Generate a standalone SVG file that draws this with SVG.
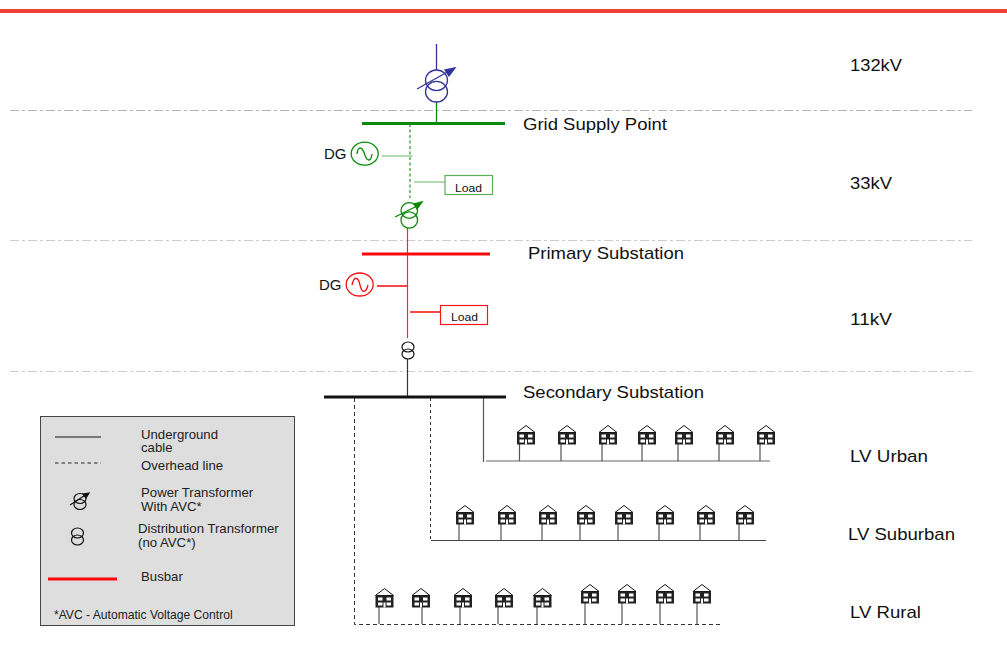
<svg xmlns="http://www.w3.org/2000/svg" width="1007" height="657" viewBox="0 0 1007 657">
<style>
text{font-family:"Liberation Sans",Arial,sans-serif;fill:#111}
.t17{font-size:17px}.t15{font-size:15px}.t13{font-size:13.2px;fill:#222}.t12{font-size:12.1px;fill:#222}.t11{font-size:11px}
.lv{stroke:#cccccc;stroke-width:1;fill:none;stroke-dasharray:9 3 3 3}
.k{stroke:#111;fill:none;stroke-width:1.2}
.g{stroke:#0a8a0a;fill:none;stroke-width:1.3}
.r{stroke:#f01010;fill:none;stroke-width:1.3}
.b{stroke:#333399;fill:none;stroke-width:1.3}
</style>
<defs>
<g id="house">
<path d="M-9 0.5 L0 -6.500 L9 0.5 Z" fill="#fff" stroke="#111" stroke-width="1"/>
<rect x="-9" y="0.5" width="18" height="12" fill="#222"/>
<rect x="-6.500" y="2.500" width="4.500" height="3" fill="#fff"/><rect x="2" y="2.500" width="4.500" height="3" fill="#fff"/>
<rect x="-6.500" y="7.500" width="4.500" height="3" fill="#fff"/><rect x="2" y="7.500" width="4.500" height="3" fill="#fff"/>
<rect x="-1" y="7.500" width="2" height="5" fill="#fff"/>
</g>
<g id="dt"><ellipse cx="0" cy="-3.500" rx="6" ry="5"/><ellipse cx="0" cy="3.500" rx="6" ry="5"/></g>
</defs>
<rect id="top-bar" x="0" y="9" width="1007" height="4" fill="#ee4238"/>

<g id="voltage-boundaries">
<line class="lv" x1="10" y1="110.500" x2="972" y2="110.500" style="stroke:#b4b4b4"/>
<line class="lv" x1="10" y1="240.500" x2="972" y2="240.500"/>
<line class="lv" x1="10" y1="371.500" x2="972" y2="371.500"/>
</g>

<g id="connectors">
<path d="M436.500 44V70" class="b"/>
<path d="M436.500 102V122" class="g"/>
<path d="M410 124V198" stroke="#4fae4f" stroke-width="1.500" stroke-dasharray="3 2.500" fill="none"/>
<path d="M381.500 156H412.500M414 182H445" stroke="#66b866" stroke-width="1.200" fill="none"/>
<path d="M407.500 228V338" stroke="#f42a2a" stroke-width="1.200" fill="none"/>
<path d="M377 286H407M410 312H440" class="r"/>
<path d="M407.500 359V396" stroke="#333" stroke-width="1.200" fill="none"/>
<path d="M483.500 398V462" stroke="#555" stroke-width="1.200" fill="none"/>
<path d="M486 461H770" stroke="#666" stroke-width="1.200" fill="none"/>
<path d="M430.500 398V541" stroke="#333" stroke-width="1" stroke-dasharray="3 3" fill="none"/>
<path d="M431 540.500H766" stroke="#444" stroke-width="1.200" fill="none"/>
<path d="M354.500 398V624.500H720" stroke="#333" stroke-width="1" stroke-dasharray="4 3" fill="none"/>
<g stroke="#555" stroke-width="1.200">
<path d="M519.500 444V461M561 444V461M602 444V461M642 444V461M678 444V461M719 444V461M760 444V461"/>
<path d="M459 524V540M501 524V540M542 524V540M580 524V540M618 524V540M659 524V540M700 524V540M739 524V540"/>
<path d="M379 607V624M422 607V624M460 607V624M498 607V624M537 607V624M585 603V624M622 603V624M660 603V624M697 603V624"/>
</g>
</g>

<g id="busbars">
<rect id="bus-gsp" x="362" y="122" width="143" height="3" fill="#0a8a0a"/>
<rect id="bus-primary" x="362" y="252.500" width="128" height="3" fill="#f80a0a"/>
<rect id="bus-secondary" x="324" y="395.500" width="182" height="3" fill="#111"/>
</g>

<g id="tx-132" class="b">
<ellipse cx="436.500" cy="80.300" rx="11" ry="10.300"/><ellipse cx="436.500" cy="91.700" rx="11" ry="10.300"/>
<path d="M417 89L451 70"/><path d="M455 68L445 70L449 76Z" fill="#333399"/>
</g>
<g id="tx-33" class="g">
<ellipse cx="409.300" cy="210.500" rx="8.300" ry="7.800"/><ellipse cx="409.300" cy="220" rx="8.300" ry="8.200"/>
<path d="M395 217L419 205"/><path d="M422 202L414 204L417 209Z" fill="#0a8a0a"/>
</g>
<g id="tx-11" class="k" transform="translate(408,350.500)"><use href="#dt"/></g>

<g id="dg-33"><ellipse class="g" cx="364.700" cy="153.700" rx="13.500" ry="11.500"/><path class="g" d="M357 154C358 146 362 146 364.500 154S371 162 372 154"/><text class="t15" x="324" y="159">DG</text></g>
<g id="dg-11"><ellipse class="r" cx="359.700" cy="284.500" rx="13.500" ry="11.500"/><path class="r" d="M352 285C354 276 358 276 360 285S366 293 368 285"/><text class="t15" x="319" y="290">DG</text></g>

<g id="load-33"><rect x="445" y="175.500" width="47.500" height="19" fill="#fff" stroke="#5cae5c" stroke-width="1.200"/><text class="t11" x="455" y="192" textLength="27" lengthAdjust="spacingAndGlyphs">Load</text></g>
<g id="load-11"><rect x="440.500" y="305.500" width="47" height="19" fill="#fff" stroke="#f01818" stroke-width="1.200"/><text class="t11" x="451" y="321" textLength="27" lengthAdjust="spacingAndGlyphs">Load</text></g>

<g id="labels">
<text class="t17" x="850" y="71" textLength="52" lengthAdjust="spacingAndGlyphs">132kV</text>
<text class="t17" x="850" y="189" textLength="42" lengthAdjust="spacingAndGlyphs">33kV</text>
<text class="t17" x="850" y="325" textLength="42" lengthAdjust="spacingAndGlyphs">11kV</text>
<text class="t17" x="523" y="130" textLength="144" lengthAdjust="spacingAndGlyphs">Grid Supply Point</text>
<text class="t17" x="528" y="259" textLength="156" lengthAdjust="spacingAndGlyphs">Primary Substation</text>
<text class="t17" x="523" y="398" textLength="181" lengthAdjust="spacingAndGlyphs">Secondary Substation</text>
<text class="t17" x="850" y="461.500" textLength="78" lengthAdjust="spacingAndGlyphs">LV Urban</text>
<text class="t17" x="848" y="540" textLength="107" lengthAdjust="spacingAndGlyphs">LV Suburban</text>
<text class="t17" x="850" y="618" textLength="71" lengthAdjust="spacingAndGlyphs">LV Rural</text>
</g>

<g id="houses-urban">
<use href="#house" x="526" y="432"/><use href="#house" x="567" y="432"/><use href="#house" x="608" y="432"/><use href="#house" x="647" y="432"/><use href="#house" x="684" y="432"/><use href="#house" x="725" y="432"/><use href="#house" x="766" y="432"/>
</g>
<g id="houses-suburban">
<use href="#house" x="465" y="512"/><use href="#house" x="507" y="512"/><use href="#house" x="548" y="512"/><use href="#house" x="586" y="512"/><use href="#house" x="624" y="512"/><use href="#house" x="665" y="512"/><use href="#house" x="706" y="512"/><use href="#house" x="745" y="512"/>
</g>
<g id="houses-rural">
<use href="#house" x="384.500" y="595"/><use href="#house" x="421" y="595"/><use href="#house" x="463" y="595"/><use href="#house" x="504" y="595"/><use href="#house" x="542.500" y="595"/><use href="#house" x="590" y="591"/><use href="#house" x="627" y="591"/><use href="#house" x="665" y="591"/><use href="#house" x="702" y="591"/>
</g>

<g id="legend">
<rect x="40.500" y="416.500" width="254" height="209" fill="#dedede" stroke="#444" stroke-width="1"/>
<path d="M55 437H101" stroke="#111" stroke-width="1" fill="none"/>
<path d="M55 463H101" stroke="#222" stroke-width="1" stroke-dasharray="3.500 3" fill="none"/>
<g class="k" transform="translate(80,502)">
<ellipse cx="0" cy="-3.500" rx="6" ry="5"/><ellipse cx="0" cy="2.500" rx="6" ry="5"/><path d="M-10 3L7 -8"/><path d="M9 -9L3 -8L6 -4Z" fill="#111"/>
</g>
<g class="k" transform="translate(77.500,536.500)"><use href="#dt"/></g>
<rect x="48" y="577.500" width="69" height="3" fill="#f80a0a"/>
<text class="t13" x="141" y="439">Underground</text>
<text class="t13" x="141" y="452">cable</text>
<text class="t13" x="141" y="470">Overhead line</text>
<text class="t13" x="141" y="497">Power Transformer</text>
<text class="t13" x="141" y="511">With AVC*</text>
<text class="t13" x="138" y="533">Distribution Transformer</text>
<text class="t13" x="138" y="547">(no AVC*)</text>
<text class="t13" x="141" y="581">Busbar</text>
<text class="t12" x="54" y="619">*AVC - Automatic Voltage Control</text>
</g>
</svg>
